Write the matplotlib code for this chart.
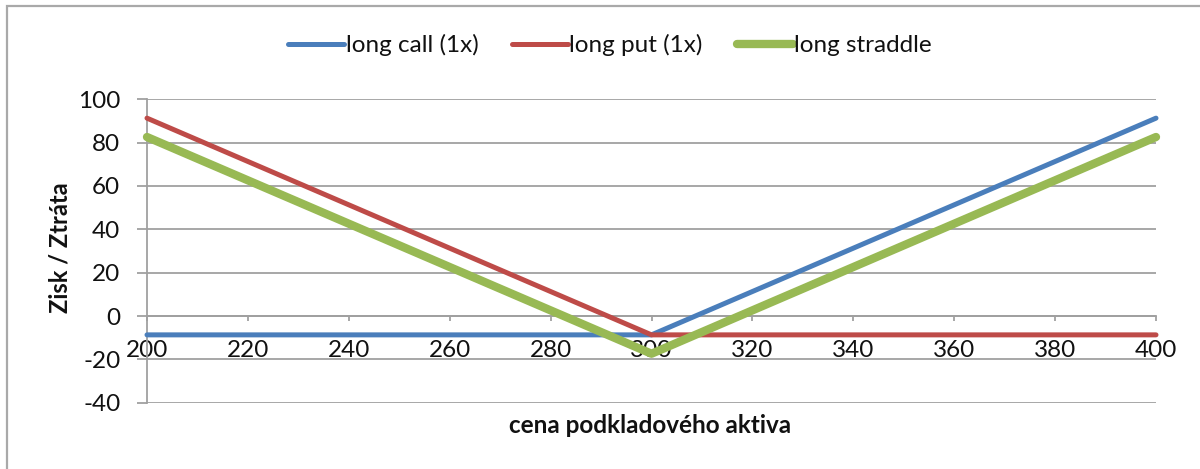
import matplotlib
matplotlib.use("Agg")
import matplotlib.pyplot as plt
from matplotlib.patches import Rectangle

# Data
prices = [200, 220, 240, 260, 280, 300, 320, 340, 360, 380, 400]
long_call = [-8.7, -8.7, -8.7, -8.7, -8.7, -8.7, 11.3, 31.3, 51.3, 71.3, 91.3]
long_put = [91.3, 71.3, 51.3, 31.3, 11.3, -8.7, -8.7, -8.7, -8.7, -8.7, -8.7]
long_straddle = [82.6, 62.6, 42.6, 22.6, 2.6, -17.4, 2.6, 22.6, 42.6, 62.6, 82.6]
series_names = ["long call (1x)", "long put (1x)", "long straddle"]
x_ticks = [200, 220, 240, 260, 280, 300, 320, 340, 360, 380, 400]
y_ticks = [-40, -20, 0, 20, 40, 60, 80, 100]

plt.rcParams['font.family'] = ['Lato', 'DejaVu Sans']
plt.rcParams['axes.unicode_minus'] = False

fig = plt.figure(figsize=(12, 4.69), dpi=100)
W, H = 1200, 469
ax = fig.add_axes([147 / W, 1 - 402.7 / H, (1156 - 147) / W, (402.7 - 99.3) / H])

# outer border (top & left visible)
fig.patches.append(Rectangle((7.3 / W, -0.1), 1.2, 1 - 5.7 / H + 0.1, transform=fig.transFigure,
                             fill=False, edgecolor='#a9a9a9', linewidth=1.6))

grid_c = '#a0a0a0'
ax.set_xlim(200, 400)
ax.set_ylim(-40, 100)
for yv in y_ticks:
    ax.axhline(yv, color=grid_c, linewidth=1.3, zorder=1)

c_blue, c_red, c_green = '#4A7EBB', '#BE4B48', '#98B954'
ax.plot(prices, long_call, color=c_blue, linewidth=3.6, label=series_names[0],
        solid_capstyle='round', zorder=3, clip_on=False)
ax.plot(prices, long_put, color=c_red, linewidth=3.6, label=series_names[1],
        solid_capstyle='round', zorder=3, clip_on=False)
ax.plot(prices, long_straddle, color=c_green, linewidth=6, label=series_names[2],
        solid_capstyle='round', zorder=4, clip_on=False)

for s in ['top', 'right']:
    ax.spines[s].set_visible(False)
ax.spines['left'].set_color(grid_c)
ax.spines['left'].set_linewidth(1.3)
ax.spines['bottom'].set_position(('data', 0))
ax.spines['bottom'].set_color(grid_c)
ax.spines['bottom'].set_linewidth(1.3)

ax.set_xticks(x_ticks)
ax.set_yticks(y_ticks)
ax.tick_params(axis='x', direction='out', length=3.6, width=1.3, color=grid_c,
               pad=13.5, labelsize=17.5, labelcolor='#111111')
ax.tick_params(axis='y', direction='out', length=7.2, width=1.3, color=grid_c,
               pad=12, labelsize=17.5, labelcolor='#111111')

fig.text(650 / W, 1 - 425 / H, 'cena podkladového aktiva', ha='center', va='center',
         fontsize=17.5, fontweight='bold', color='#111111')
fig.text(60 / W, 1 - 248 / H, 'Zisk / Ztráta', ha='center', va='center', rotation=90,
         fontsize=17, fontweight='bold', color='#111111')

leg = fig.legend(loc='center', bbox_to_anchor=(610 / W, 1 - 45 / H), ncol=3, frameon=False,
                 fontsize=17.5, handlelength=2.3, handletextpad=0.05, columnspacing=1.4)
for t in leg.get_texts():
    t.set_color('#111111')

fig.savefig('out.png', dpi=100)
